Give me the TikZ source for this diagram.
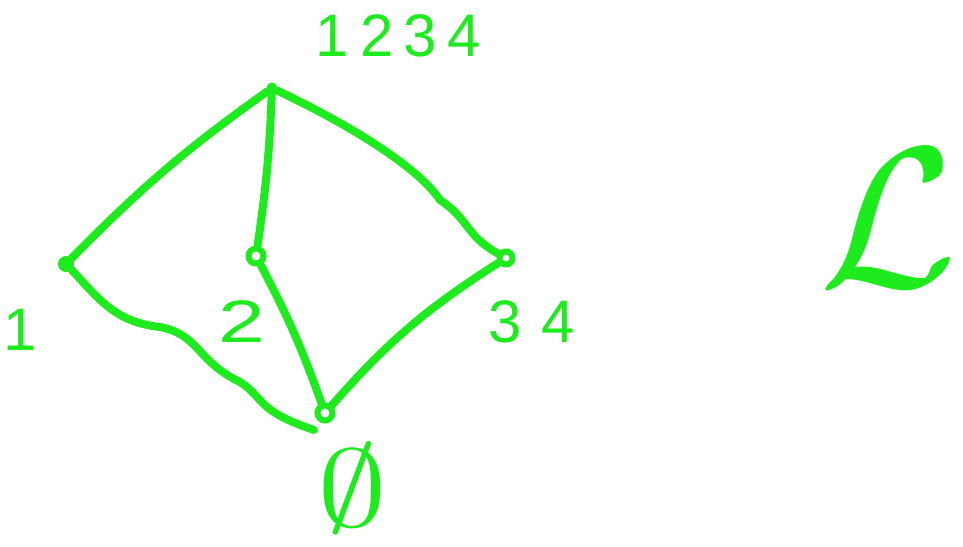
\documentclass[tikz,border=0pt]{standalone}
\usepackage{fontspec}
\setsansfont{Liberation Sans}
\usetikzlibrary{positioning}
\definecolor{penGreen}{HTML}{1EEB1E}
\tikzset{
  every picture/.style={font=\sffamily, text=penGreen},
  pen/.style={draw=penGreen, line width=8pt, line cap=round, line join=round},
  lat dot/.style={circle, fill=penGreen, inner sep=0pt, minimum size=13pt},
  lat ring/.style={circle, draw=penGreen, line width=6pt, fill=white, inner sep=0pt, minimum size=15pt},
  lat label/.style={inner sep=0pt, font=\sffamily\fontsize{60}{60}\selectfont}
}
\begin{document}
\begin{tikzpicture}[x=1pt,y=-1pt]
  \useasboundingbox (0,0) rectangle (963,546);
  % lattice elements
  \node[lat dot, minimum size=11pt] (top) at (272,88) {};
  \node[lat dot, minimum width=16pt, minimum height=13pt] (one) at (66,264) {};
  \node[lat ring] (two)    at (256,256) {};
  \node[lat ring, minimum size=13pt] (three) at (506,258) {};
  \node[lat ring] (bot)    at (325,413) {};
  % covering relations
  \draw[pen] (one) to[bend left=5] (top);
  \draw[pen] (two) to[bend right=3] (top);
  \draw[pen] (top) .. controls (360,130) and (420,170) .. (440,200)
                   .. controls (470,220) and (465,235) .. (three);
  \draw[pen] (one) .. controls (100,300) and (115,322) .. (160,327)
                   .. controls (200,335) and (195,360) .. (240,382)
                   .. controls (265,398) and (255,410) .. (314,430);
  \draw[pen] (two) to[bend left=4] (bot);
  \draw[pen] (bot) to[bend left=8] (three);
  % labels
  \node[lat label] (l1234) at (398,36) {1\kern12pt2\kern10pt3\kern10pt4};
  \node[lat label] (l1)    at (20,330) {1};
  \node[lat label, xscale=1.4] (l2) at (242,322) {2};
  \node[lat label] (l34)   at (532,322) {3\kern20pt4};
  \node[lat label, font=\normalsize, xscale=14, yscale=11] (lemp) at (352,488) {$\emptyset$};
  \node[lat label, font=\normalsize, scale=20] (lL) at (888,218) {$\mathcal{L}$};
\end{tikzpicture}
\end{document}
